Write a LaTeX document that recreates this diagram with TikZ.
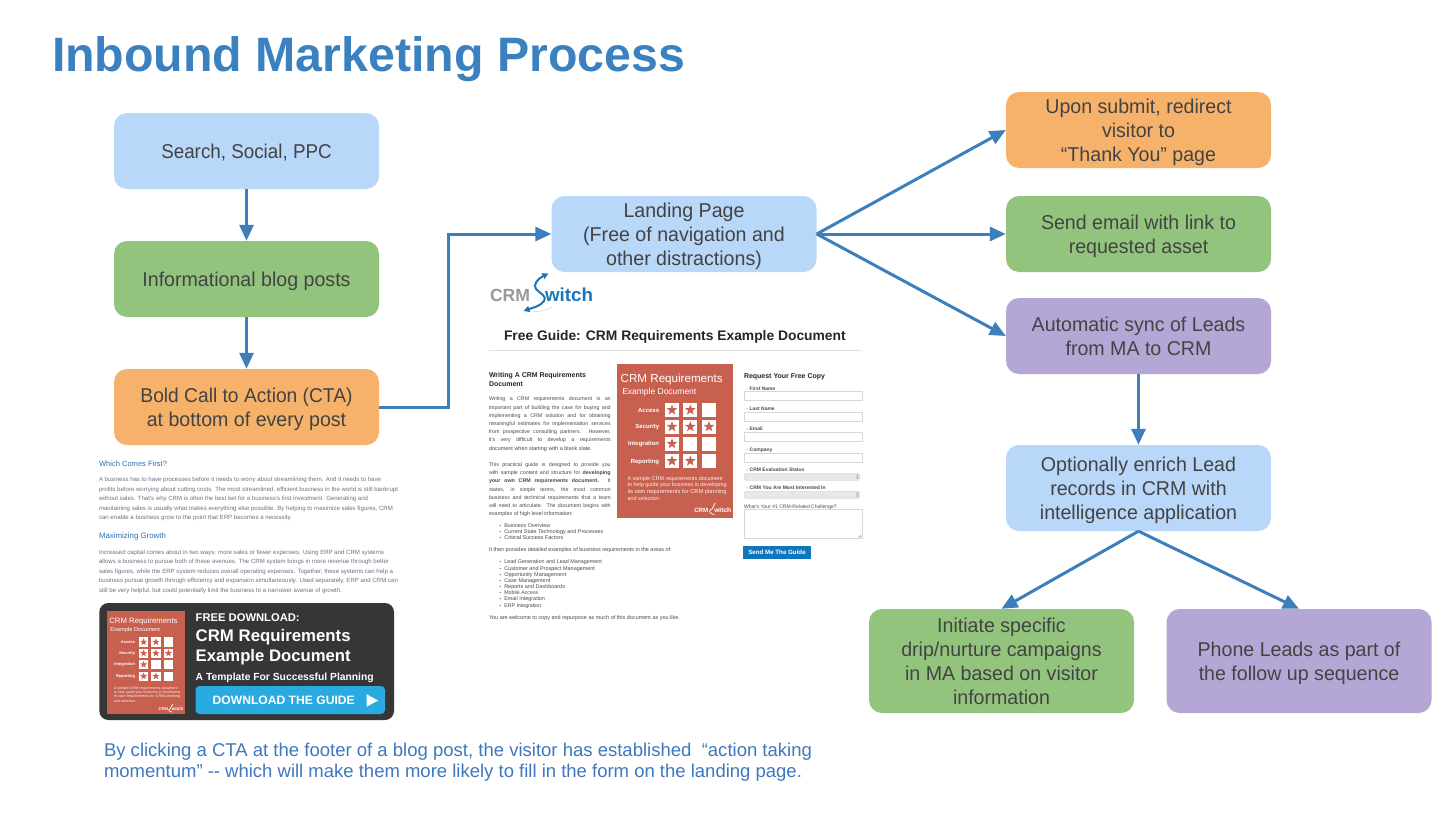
\documentclass[tikz,border=0pt]{standalone}
\usepackage{fontspec}
\usepackage{graphicx}
\setmainfont{Liberation Sans}
\newfontfamily\boxfont[FakeStretch=0.98]{Liberation Sans}
\usetikzlibrary{arrows.meta}
\definecolor{bxblue}{HTML}{B9D7F9}
\definecolor{bxgreen}{HTML}{93C47D}
\definecolor{bxorange}{HTML}{F6B26B}
\definecolor{bxpurple}{HTML}{B4A7D6}
\definecolor{bxtext}{HTML}{434343}
\definecolor{arrowblue}{HTML}{3D7FBA}
\definecolor{titleblue}{HTML}{3B80BF}
\definecolor{coverred}{HTML}{C86050}
\definecolor{linkblue}{HTML}{2B6FAE}
\definecolor{bodygray}{HTML}{6B7480}
\definecolor{pagetext}{HTML}{4A4A4A}
\definecolor{darkbox}{HTML}{363636}
\definecolor{btnblue}{HTML}{29ABE2}
\definecolor{sendblue}{HTML}{0F75BC}
\definecolor{logoblue}{HTML}{1B75BB}
\definecolor{capblue}{HTML}{3F78BE}
\definecolor{fieldline}{HTML}{D8D8D8}
\tikzset{
  x=1pt,y=-1pt,
  flowbox/.style={rounded corners=13pt,inner sep=0pt,minimum width=265pt,text=bxtext,
    font=\boxfont\fontsize{20}{24}\selectfont},
  flowarrow/.style={draw=arrowblue,line width=3pt,-{Triangle[length=16pt,width=14pt]}},
  tiny/.style={anchor=base west,inner sep=0pt,outer sep=0pt},
  fieldbox/.style={draw=fieldline,fill=white,line width=.7pt},
  selectbox/.style={draw=fieldline,fill=black!9,line width=.6pt,rounded corners=2pt},
}
\newcommand{\bxt}[1]{\raisebox{-7.5pt}[0pt][0pt]{\begin{tabular}{@{}c@{}}#1\end{tabular}}}
\newcount\txc
% fitted line: x, baseline y, width, font size, colour, text
\newcommand{\fitl}[6]{\global\advance\txc by 1
  \node[tiny,text=#5] (tx\the\txc) at (#1,#2) {\resizebox{#3pt}{!}{\fontsize{#4}{#4}\selectfont #6}};}
% justified line: x, baseline y, width, font size, colour, text
\newcommand{\just}[6]{\global\advance\txc by 1
  \node[tiny,text=#5] (tx\the\txc) at (#1,#2) {\fontsize{#4}{#4}\selectfont\makebox[#3pt][s]{#6}};}
\newcommand{\starat}[2]{\fill[coverred,shift={(#1,#2)}]
  (-90:5.6)--(-54:2.3)--(-18:5.6)--(18:2.3)--(54:5.6)--(90:2.3)--(126:5.6)--(162:2.3)--(198:5.6)--(234:2.3)--cycle;}
\newcommand{\covercell}[3]{\fill[white] (#1-7,#2-7) rectangle (#1+7,#2+7);
  \ifnum#3=1 \starat{#1}{#2}\fi}
\newcommand{\coverrow}[6]{%
  \global\advance\txc by 1
  \node[anchor=base east,inner sep=0pt,text=white,font=\fontsize{6}{6}\selectfont\bfseries] (tx\the\txc) at (42,#2+2) {#1};
  \covercell{54.7}{#2}{#3}\covercell{73}{#2}{#4}\covercell{91.7}{#2}{#5}}
\newcommand{\crmcover}{%
  \fill[coverred] (0,0) rectangle (116,154);
  \fitl{3.4}{19}{102}{12}{white}{CRM Requirements}
  \fitl{5}{30.3}{74}{9}{white}{Example Document}
  \coverrow{Access}{46.3}{1}{1}{0}{}
  \coverrow{Security}{63}{1}{1}{1}{}
  \coverrow{Integration}{80}{1}{0}{0}{}
  \coverrow{Reporting}{97.3}{1}{1}{0}{}
  \fitl{10.3}{116.5}{95}{5}{white!90!coverred}{A sample CRM requirements document}
  \fitl{10.3}{123.1}{99}{5}{white!90!coverred}{to help guide your business in developing}
  \fitl{10.3}{129.8}{99}{5}{white!90!coverred}{its own requirements for CRM planning}
  \fitl{10.3}{136.5}{33}{5}{white!90!coverred}{and selection.}
  \fitl{77}{148.5}{14}{6}{white}{\bfseries CRM}
  \fitl{97}{148.5}{17}{6}{white}{\bfseries witch}
  \draw[white,line width=.7pt] (97,151) .. controls (90,149) and (92,146) .. (95,145) .. controls (97,144) and (95,141) .. (98,139);
}
\newcommand{\selarrows}[1]{\fill[black!45] (856.3,#1-.6) -- (857.3,#1-2.2) -- (858.3,#1-.6) -- cycle;
  \fill[black!45] (856.3,#1+.6) -- (857.3,#1+2.2) -- (858.3,#1+.6) -- cycle;}
\begin{document}
\begin{tikzpicture}
\useasboundingbox (0,0) rectangle (1448,814);
\fill[white] (0,0) rectangle (1448,814);

% Title
\node[tiny,text=titleblue] (title) at (52,71) {\resizebox{633pt}{!}{\fontsize{46}{46}\selectfont\bfseries Inbound Marketing Process}};

% Flow boxes
\node[flowbox,fill=bxblue,minimum height=76pt] (search) at (246.5,151) {\bxt{\scalebox{.96}[1]{Search, Social, PPC}}};
\node[flowbox,fill=bxgreen,minimum height=76pt] (blog) at (246.5,279) {\bxt{Informational blog posts}};
\node[flowbox,fill=bxorange,minimum height=76pt] (cta) at (246.5,407) {\bxt{\scalebox{.98}[1]{Bold Call to Action (CTA)}\\at bottom of every post}};
\node[flowbox,fill=bxblue,minimum height=76pt] (landing) at (684,234) {\bxt{Landing Page\\(Free of navigation and\\other distractions)}};
\node[flowbox,fill=bxorange,minimum height=76pt] (thanks) at (1138.5,130) {\bxt{Upon submit, redirect\\visitor to\\“Thank You” page}};
\node[flowbox,fill=bxgreen,minimum height=76pt] (email) at (1138.5,234) {\bxt{Send email with link to\\requested asset}};
\node[flowbox,fill=bxpurple,minimum height=76pt] (sync) at (1138.5,336) {\bxt{Automatic sync of Leads\\from MA to CRM}};
\node[flowbox,fill=bxblue,minimum height=86pt] (enrich) at (1138.5,488) {\bxt{Optionally enrich Lead\\records in CRM with\\intelligence application}};
\node[flowbox,fill=bxgreen,minimum height=104pt] (drip) at (1001.5,661) {\bxt{Initiate specific\\drip/nurture campaigns\\in MA based on visitor\\information}};
\node[flowbox,fill=bxpurple,minimum height=104pt] (phone) at (1299,661) {\bxt{Phone Leads as part of\\the follow up sequence}};

% Connectors
\draw[flowarrow] (search.south) -- (blog.north);
\draw[flowarrow] (blog.south) -- (cta.north);
\draw[flowarrow] (cta.east) -- (448,407) -- (448,234) -- (landing.west);
\draw[flowarrow] (landing.east) -- (thanks.west);
\draw[flowarrow] (landing.east) -- (email.west);
\draw[flowarrow] (landing.east) -- (sync.west);
\draw[flowarrow] (sync.south) -- (enrich.north);
\draw[flowarrow] (enrich.south) -- (drip.north);
\draw[flowarrow] (enrich.south) -- (phone.north);

% Blog excerpt
\fitl{99}{466}{68}{8.5}{linkblue}{Which Comes First?}
\fitl{99}{481.8}{282}{7}{bodygray}{A business has to have processes before it needs to worry about streamlining them. And it needs to have}
\fitl{99}{491.2}{299}{7}{bodygray}{profits before worrying about cutting costs. The most streamlined, efficient business in the world is still bankrupt}
\fitl{99}{500.5}{269}{7}{bodygray}{without sales. That’s why CRM is often the best bet for a business’s first investment. Generating and}
\fitl{99}{510.2}{294}{7}{bodygray}{maintaining sales is usually what makes everything else possible. By helping to maximize sales figures, CRM}
\fitl{99}{519.5}{193}{7}{bodygray}{can enable a business grow to the point that ERP becomes a necessity.}
\fitl{99}{538.7}{67}{8.5}{linkblue}{Maximizing Growth}
\fitl{99}{554.5}{285}{7}{bodygray}{Increased capital comes about in two ways: more sales or fewer expenses. Using ERP and CRM systems}
\fitl{99}{563.8}{290}{7}{bodygray}{allows a business to pursue both of these avenues. The CRM system brings in more revenue through better}
\fitl{99}{573.2}{294}{7}{bodygray}{sales figures, while the ERP system reduces overall operating expenses. Together, these systems can help a}
\fitl{99}{582.8}{299}{7}{bodygray}{business pursue growth through efficiency and expansion simultaneously. Used separately, ERP and CRM can}
\fitl{99}{592.2}{243}{7}{bodygray}{still be very helpful, but could potentially limit the business to a narrower avenue of growth.}

% CTA banner
\fill[darkbox,rounded corners=9pt] (99.3,603) rectangle (394,720);
\begin{scope}[shift={(107,611)},scale=.67,transform shape]
\crmcover
\end{scope}
\fitl{195.7}{621.5}{104}{12}{white}{\bfseries FREE DOWNLOAD:}
\fitl{195.7}{641.5}{155}{16}{white}{\bfseries CRM Requirements}
\fitl{195.7}{661.5}{155}{16}{white}{\bfseries Example Document}
\fitl{195.7}{680}{178}{11}{white}{\bfseries A Template For Successful Planning}
\fill[btnblue,rounded corners=4pt] (195.5,686) rectangle (385,714);
\fitl{212.7}{704.7}{142}{13}{white}{\bfseries DOWNLOAD THE GUIDE}
\fill[white] (366.7,694.3) -- (378,700.5) -- (366.7,706.7) -- cycle;

% Caption
\fitl{104}{756}{708}{18.5}{capblue}{By clicking a CTA at the footer of a blog post, the visitor has established \ “action taking}
\fitl{104}{777}{698}{18.5}{capblue}{momentum” {-}{-} which will make them more likely to fill in the form on the landing page.}

% Landing page screenshot: logo
\fitl{490}{301.5}{40}{20}{black!40}{\bfseries CRM}
\fitl{545}{301.5}{48}{20}{logoblue}{\bfseries witch}
\draw[black!15,line width=.7pt] (534,311.5) .. controls (541,312) and (551,309) .. (552,306.5);
\draw[logoblue,line width=2pt,{Triangle[length=6pt,width=6pt]}-{Triangle[length=6pt,width=6pt]}] (523.5,311) .. controls (532,308) and (541,306) .. (544,301) .. controls (547,295) and (540,294) .. (536,289) .. controls (533,285) and (537,279) .. (548.5,273.5);
% heading
\fitl{504}{340}{341.7}{14}{black!85}{\bfseries Free Guide: CRM Requirements Example Document}
\draw[black!12,line width=.6pt] (489,350.3) -- (861,350.3);

% left column
\fitl{489}{377.5}{97}{7}{black!85}{\bfseries Writing A CRM Requirements}
\fitl{489}{386.5}{34}{7}{black!85}{\bfseries Document}
\just{489}{400.8}{121.7}{5.3}{pagetext}{Writing a CRM requirements document is an}
\just{489}{409.1}{121.7}{5.3}{pagetext}{important part of building the case for buying and}
\just{489}{417.5}{121.7}{5.3}{pagetext}{implementing a CRM solution and for obtaining}
\just{489}{425.5}{121.7}{5.3}{pagetext}{meaningful estimates for implementation services}
\just{489}{433.8}{121.7}{5.3}{pagetext}{from prospective consulting partners. However,}
\just{489}{441.8}{121.7}{5.3}{pagetext}{it’s very difficult to develop a requirements}
\fitl{489}{450.1}{103}{5.3}{pagetext}{document when starting with a blank slate.}
\just{489}{466.1}{121.7}{5.3}{pagetext}{This practical guide is designed to provide you}
\just{489}{474.5}{121.7}{5.3}{pagetext}{with sample content and structure for \textbf{developing}}
\just{489}{482.8}{121.7}{5.3}{pagetext}{\textbf{your own CRM requirements document.} It}
\just{489}{491.1}{121.7}{5.3}{pagetext}{states, in simple terms, the most common}
\just{489}{499.1}{121.7}{5.3}{pagetext}{business and technical requirements that a team}
\just{489}{507.5}{121.7}{5.3}{pagetext}{will need to articulate. The document begins with}
\fitl{489}{515.5}{83.7}{5.3}{pagetext}{examples of high level information:}
\fitl{499.5}{527.8}{1.5}{5.3}{pagetext}{•}
\fitl{499.5}{533.8}{1.5}{5.3}{pagetext}{•}
\fitl{499.5}{539.8}{1.5}{5.3}{pagetext}{•}
\fitl{504.3}{527.8}{46}{5.3}{pagetext}{Business Overview}
\fitl{504.3}{533.8}{99}{5.3}{pagetext}{Current State Technology and Processes}
\fitl{504.3}{539.8}{59}{5.3}{pagetext}{Critical Success Factors}
\fitl{489}{551.8}{182.7}{5.3}{pagetext}{It then provides detailed examples of business requirements in the areas of:}
\foreach \yy/\ww/\lbl in {563.8/97.7/Lead Generation and Lead Management,570.1/90.7/Customer and Prospect Management,576.1/62/Opportunity Management,582.5/46/Case Management,588.5/60.7/Reports and Dashboards,594.8/34/Mobile Access,600.8/40.7/Email Integration,607.1/37/ERP Integration}{
  \fitl{499.5}{\yy}{1.5}{5.3}{pagetext}{•}
  \fitl{504.3}{\yy}{\ww}{5.3}{pagetext}{\lbl}
}
\fitl{489}{619.1}{191}{5.3}{pagetext}{You are welcome to copy and repurpose as much of this document as you like.}

% cover
\begin{scope}[shift={(617.3,363.7)}]
\crmcover
\end{scope}

% form
\fitl{744}{378.8}{81}{7}{black!85}{\bfseries Request Your Free Copy}
\foreach \yy/\ww/\lbl in {388.3/25.7/First Name,408.7/25/Last Name,429/13/Email,449.7/22.7/Company,470/54.7/CRM Evaluation Status,488/76/CRM You Are Most Interested In}{
  \fill[yellow!80!orange] (747,\yy) circle (.8);
  \fitl{749.7}{\yy+1.7}{\ww}{5}{pagetext}{\bfseries\lbl}
}
\draw[fieldbox] (744.3,391.7) rectangle (862.7,400.3);
\draw[fieldbox] (744.3,412.3) rectangle (862.7,421);
\draw[fieldbox] (744.3,432.7) rectangle (862.7,441.7);
\draw[fieldbox] (744.3,453.3) rectangle (862.7,462);
\draw[selectbox] (744.3,473.3) rectangle (859.7,480.3);
\selarrows{476.8}
\draw[selectbox] (744.3,491.3) rectangle (859.7,498.3);
\selarrows{494.8}
\fitl{744}{508}{92.7}{5}{pagetext}{What’s Your \#1 CRM-Related Challenge?}
\draw[fieldbox] (744.3,509) rectangle (862,538.3);
\draw[black!35,line width=.4pt] (858.5,537.5) -- (861.2,534.8) (860,537.5) -- (861.2,536.3);
\fill[sendblue] (743.3,546) rectangle (810.7,559.3);
\fitl{748.3}{554.7}{57.4}{6}{white}{\bfseries Send Me The Guide}
\end{tikzpicture}
\end{document}
